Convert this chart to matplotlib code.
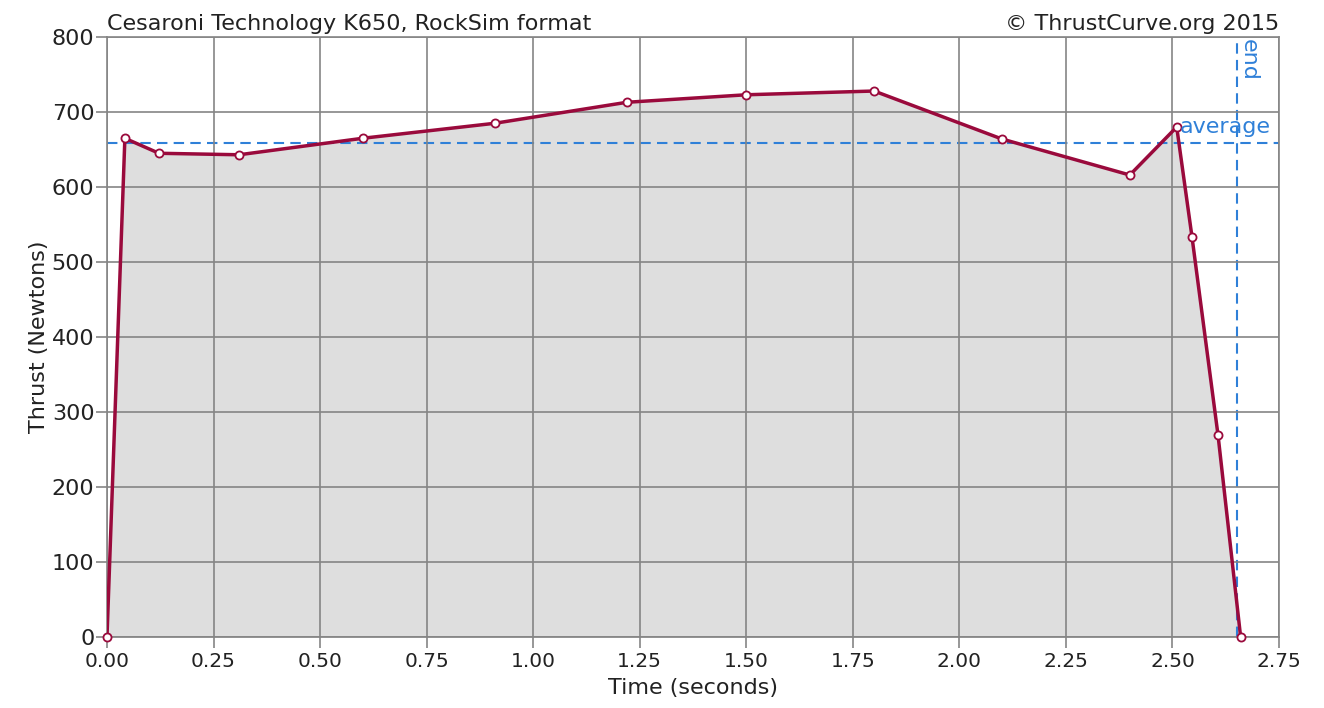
import matplotlib.pyplot as plt

time = [0.0, 0.042, 0.122, 0.31, 0.60, 0.91, 1.22, 1.50, 1.80, 2.10, 2.40, 2.51, 2.546, 2.607, 2.66]
thrust = [0, 665, 645, 643, 665, 685, 713, 723, 728, 664, 616, 680, 533, 269, 0]
average = 659
burn_end = 2.652

x_ticks = [0.0, 0.25, 0.5, 0.75, 1.0, 1.25, 1.5, 1.75, 2.0, 2.25, 2.5, 2.75]
y_ticks = [0, 100, 200, 300, 400, 500, 600, 700, 800]

line_col = '#9a0a3c'
blue = '#2f80d8'
txt = '#222222'

fig = plt.figure(figsize=(13.24, 7.08), dpi=100)
ax = fig.add_axes([0.0808, 0.1003, 0.8852, 0.8474])

ax.fill_between(time, thrust, 0, color='#dedede', zorder=1)
ax.axhline(average, color=blue, lw=1.5, ls=(0, (5, 3)), zorder=2)
ax.axvline(burn_end, color=blue, lw=1.5, ls=(0, (5, 3)), zorder=2)
ax.plot(time, thrust, color=line_col, lw=2.5, zorder=4)
ax.scatter(time, thrust, s=34, facecolor='white', edgecolor=line_col, linewidth=1.3, zorder=5, clip_on=False)
ax.text(2.517, average + 8, 'average', color=blue, fontsize=16, ha='left', va='bottom', zorder=6)
ax.text(burn_end + 0.004, 797, 'end', color=blue, fontsize=16, rotation=-90, ha='left', va='top', zorder=6)

ax.set_xlim(0, 2.75)
ax.set_ylim(0, 800)
ax.set_xticks(x_ticks)
ax.set_xticklabels([f'{t:.2f}' for t in x_ticks])
ax.set_yticks(y_ticks)
ax.grid(True, color='#858585', lw=1.2, zorder=3)
ax.set_axisbelow(False)
for gl in ax.get_xgridlines() + ax.get_ygridlines():
    gl.set_zorder(3)
for s in ax.spines.values():
    s.set_color('#858585')
    s.set_linewidth(1.2)
ax.tick_params(colors='#858585', labelcolor=txt, length=8, width=1.2, pad=1)
ax.tick_params(axis='x', labelsize=14.5, pad=3)
ax.tick_params(axis='y', labelsize=16)

ax.set_xlabel('Time (seconds)', fontsize=16, color=txt, labelpad=5)
ax.set_ylabel('Thrust (Newtons)', fontsize=16, color=txt, labelpad=2)
ax.text(0, 1.005, 'Cesaroni Technology K650, RockSim format', transform=ax.transAxes,
        fontsize=16, ha='left', va='bottom', color=txt)
ax.text(1, 1.005, '\u00a9 ThrustCurve.org 2015', transform=ax.transAxes,
        fontsize=16, ha='right', va='bottom', color=txt)

fig.savefig('out.png', dpi=100)
